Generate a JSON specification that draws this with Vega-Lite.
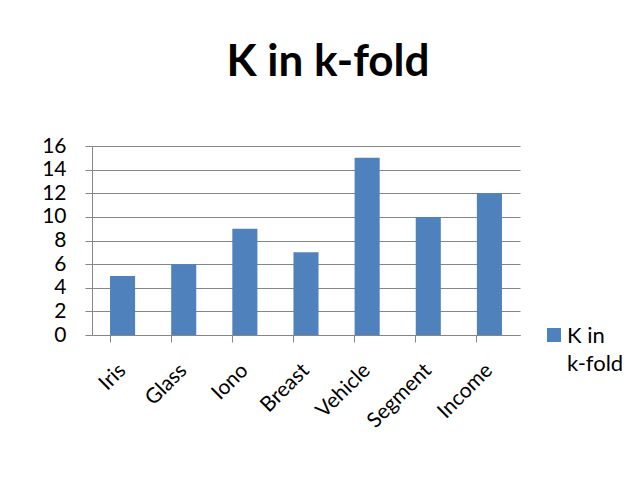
{
  "$schema": "https://vega.github.io/schema/vega-lite/v6.json",
  "autosize": "none",
  "width": 428,
  "height": 189,
  "padding": {"left": 92, "top": 146, "right": 108, "bottom": 169},
  "background": "white",
  "title": {"text": "K in k-fold", "fontSize": 44, "font": "Lato", "fontWeight": "bold", "color": "black", "offset": 50, "dx": 22},
  "data": {"values": [
    {"dataset": "Iris", "k": 5, "series": "K in k-fold"},
    {"dataset": "Glass", "k": 6, "series": "K in k-fold"},
    {"dataset": "Iono", "k": 9, "series": "K in k-fold"},
    {"dataset": "Breast", "k": 7, "series": "K in k-fold"},
    {"dataset": "Vehicle", "k": 15, "series": "K in k-fold"},
    {"dataset": "Segment", "k": 10, "series": "K in k-fold"},
    {"dataset": "Income", "k": 12, "series": "K in k-fold"}
  ]},
  "mark": {"type": "bar"},
  "encoding": {
    "x": {"field": "dataset", "type": "nominal", "sort": null,
      "scale": {"paddingInner": 0.59, "paddingOuter": 0.295},
      "axis": {"title": null, "labelAngle": -45, "labelFontSize": 21, "labelFont": "Lato", "labelColor": "black",
        "bandPosition": 0, "labelOffset": 0, "labelBaseline": "middle", "labelAlign": "right", "tickSize": 7, "tickColor": "#868686", "domainColor": "#868686",
        "labelPadding": 25, "grid": false}},
    "y": {"field": "k", "type": "quantitative",
      "scale": {"domain": [0, 16]},
      "axis": {"title": null, "values": [0, 2, 4, 6, 8, 10, 12, 14, 16], "labelFontSize": 21, "labelFont": "Lato", "labelColor": "black",
        "tickSize": 7, "tickColor": "#868686", "domainColor": "#868686", "gridColor": "#868686", "gridOpacity": 1, "labelPadding": 19}},
    "color": {"field": "series", "type": "nominal", "scale": {"range": ["#4F81BD"]},
      "legend": {"title": null, "orient": "none", "legendX": 451, "legendY": 178, "symbolType": "square", "symbolSize": 196,
        "symbolStrokeWidth": 0, "labelFontSize": 22, "labelFont": "Lato", "labelColor": "black", "labelLimit": 200,
        "labelExpr": "['K in', 'k-fold']", "labelBaseline": "top", "labelOffset": 2,
        "encode": {"labels": {"update": {"lineHeight": {"value": 28}, "dy": {"value": -9}}}}}}
  },
  "config": {"view": {"stroke": null}}
}
